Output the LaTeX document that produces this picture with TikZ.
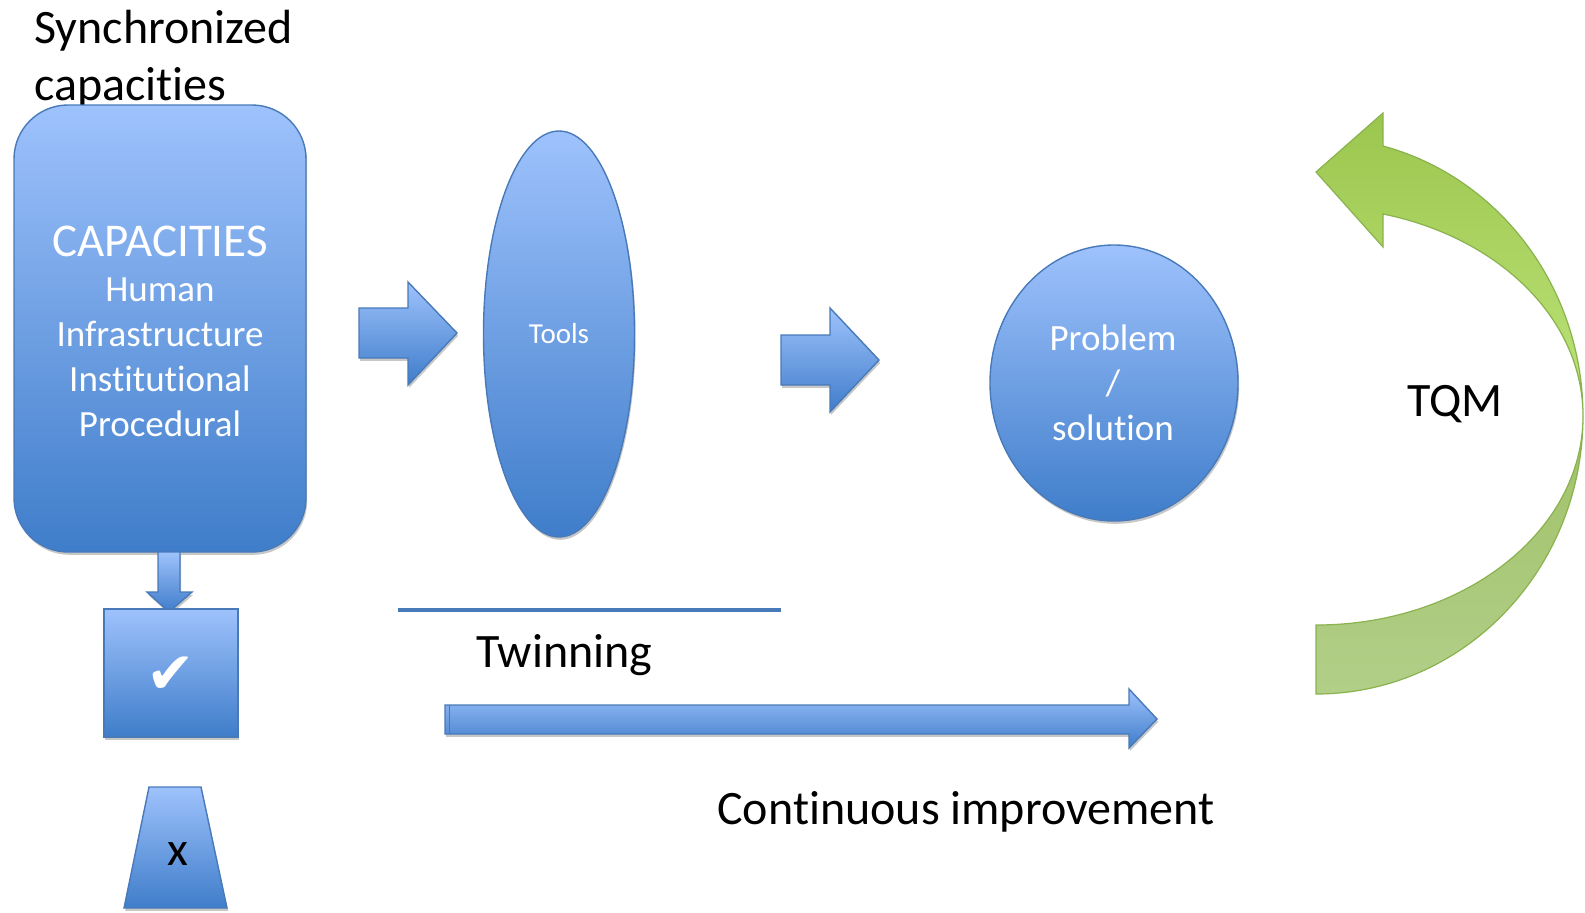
\documentclass[tikz,border=0pt]{standalone}
\usepackage{fontspec}
\setmainfont{Carlito}[Ligatures=NoCommon]
\newfontfamily\checkfont{DejaVu Sans}
\usetikzlibrary{shapes.geometric,shadows}

\definecolor{bluetop}{RGB}{158,194,252}
\definecolor{bluebot}{RGB}{63,125,202}
\definecolor{blueedge}{RGB}{72,122,186}
\definecolor{greentop}{RGB}{155,198,78}
\definecolor{greenmid}{RGB}{190,228,122}
\definecolor{greenlow}{RGB}{160,193,104}
\definecolor{greentail}{RGB}{178,207,136}
\definecolor{greenedge}{RGB}{138,178,78}

\begin{document}
\begin{tikzpicture}[x=0.5pt,y=-0.5pt,
  softshadow/.style={drop shadow={shadow xshift=0.6pt,shadow yshift=-1.4pt,opacity=0.22,fill=black}},
  bluefill/.style={top color=bluetop,bottom color=bluebot,draw=blueedge,line width=0.7pt,softshadow},
  blacklabel/.style={font=\fontsize{24}{28}\selectfont,text=black,inner sep=0,anchor=base west},
  whitebig/.style={font=\fontsize{23.5}{28}\selectfont,text=white,inner sep=0,anchor=base},
  whitemid/.style={font=\fontsize{18.5}{22.5}\selectfont,text=white,inner sep=0,anchor=base},
  greenedgeline/.style={draw=greenedge,line width=0.6pt}
]
\useasboundingbox (0,0) rectangle (1585,912);

% heading
\node[blacklabel] (title1) at (34,43) {Synchronized};
\node[blacklabel] (title2) at (34,100) {capacities};

% capacities block
\node[bluefill,rounded corners=27pt,minimum width=146pt,minimum height=223.5pt,inner sep=0,outer sep=0] (capbox) at (160,328.5) {};
\node[whitebig] (capA) at (160,256) {CAPACITIES};
\node[whitemid] (capB) at (160,301) {Human};
\node[whitemid] (capC) at (160,346) {Infrastructure};
\node[whitemid] (capD) at (160,391) {Institutional};
\node[whitemid] (capE) at (160,436) {Procedural};

% downward block arrow
\path[bluefill] (158,552) -- (180,552) -- (180,592) -- (192,592) -- (169,612) -- (147,592) -- (158,592) -- cycle;

% check box
\node[bluefill,minimum width=67pt,minimum height=64pt,inner sep=0,outer sep=0] (okbox) at (171,673) {};
\node[text=white,inner sep=0,font=\checkfont\fontsize{29}{29}\selectfont] (okmark) at (171,675) {✔};

% trapezoid with x
\path[bluefill] (149,787) -- (201,787) -- (227,908) -- (124,908) -- cycle;
\node[blacklabel,anchor=base] (xmark) at (178,865) {x};

% block arrows
\path[bluefill] (359,308) -- (408,308) -- (408,282) -- (457,333) -- (408,385) -- (408,358) -- (359,358) -- cycle;
\path[bluefill] (781,335) -- (830,335) -- (830,308) -- (879,360) -- (830,412) -- (830,385) -- (781,385) -- cycle;

% tools
\node[bluefill,ellipse,minimum width=75.5pt,minimum height=203pt,inner sep=0,text=white,
      font=\fontsize{14.5}{14.5}\selectfont] (tools) at (559,334) {Tools};

% problem / solution
\node[bluefill,ellipse,minimum width=124pt,minimum height=138pt,inner sep=0] (prob) at (1114,383) {};
\node[whitemid] (probA) at (1113,350) {Problem};
\node[whitemid] (probB) at (1113,395) {/};
\node[whitemid] (probC) at (1113,440) {solution};

% twinning
\coordinate (twA) at (398,610);
\coordinate (twB) at (781,610);
\draw[blueedge,line width=2pt] (twA) -- (twB);
\node[blacklabel] (twin) at (476,667) {Twinning};

% continuous improvement arrow
\path[bluefill] (445,705) -- (1129,705) -- (1129,689) -- (1157,719) -- (1129,748) -- (1129,734) -- (445,734) -- cycle;
\draw[blueedge,line width=0.5pt] (449,705) -- (449,734);
\node[blacklabel] (cont) at (717,824) {Continuous improvement};

% TQM curved arrow: lower (back) band
\path[greenedgeline,top color=greenlow,bottom color=greentail]
  (1583,416) .. controls (1583,569.5) and (1463.5,694) .. (1316,694)
  -- (1316,625) .. controls (1463.5,625) and (1583,531.4) .. (1583,416) -- cycle;
% upper (front) band with head
\path[greenedgeline,top color=greentop,bottom color=greenmid]
  (1383,146) .. controls (1500.8,177.8) and (1583,289.3) .. (1583,416)
  .. controls (1583,320.7) and (1500.8,237.9) .. (1383,214)
  -- (1383,247) -- (1316,172) -- (1383,113) -- cycle;
\node[blacklabel] (tqm) at (1407,416) {TQM};
\end{tikzpicture}
\end{document}
